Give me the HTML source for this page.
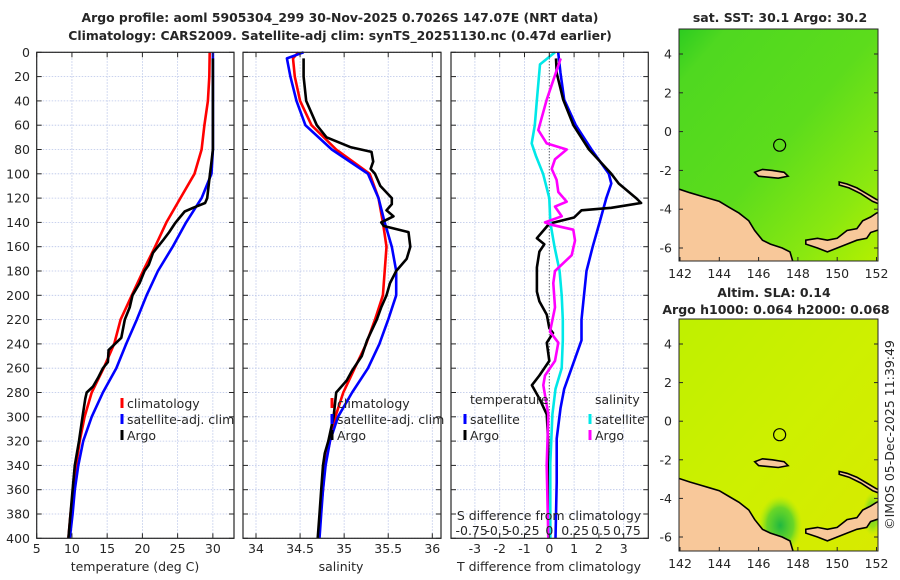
<!DOCTYPE html>
<html><head><meta charset="utf-8"><style>
html,body{margin:0;padding:0;background:#fff;}
svg{display:block;font-family:"DejaVu Sans","Liberation Sans",sans-serif;}
</style></head><body>
<svg id="fig" width="900" height="580" viewBox="0 0 900 580" xmlns="http://www.w3.org/2000/svg">
<defs>
<linearGradient id="sstGrad" x1="0" y1="0" x2="1" y2="1">
<stop offset="0" stop-color="#2ccc20"/><stop offset="0.12" stop-color="#4fd820"/><stop offset="0.5" stop-color="#5cdc1c"/><stop offset="0.8" stop-color="#8ae810"/><stop offset="1" stop-color="#b4f000"/></linearGradient>
<linearGradient id="slaGrad" x1="0" y1="0" x2="1" y2="1">
<stop offset="0" stop-color="#bff000"/><stop offset="0.5" stop-color="#cdf000"/><stop offset="1" stop-color="#d8ea00"/></linearGradient>
<radialGradient id="slaGreen" cx="0.5" cy="0.5" r="0.5"><stop offset="0" stop-color="#20b840"/><stop offset="0.6" stop-color="#50d030" stop-opacity="0.8"/><stop offset="1" stop-color="#a0e810" stop-opacity="0"/></radialGradient>
<clipPath id="clipMap1"><rect x="679" y="29" width="199" height="232"/></clipPath>
<clipPath id="clipMap2"><rect x="679" y="319" width="199" height="232"/></clipPath>
</defs>
<g id="root"></g>
</svg>
<script>
// ---------- DATA ----------
const climDepth=[0,20,40,60,80,100,120,140,160,180,200,220,240,260,280,300,320,340,360,380,400];
const tClim=[29.55,29.5,29.3,28.8,28.4,27.4,25.4,23.4,21.8,20.1,18.5,16.9,16.0,14.5,12.8,11.8,11.1,10.6,10.2,9.8,9.5];
const tSat=[30.0,30.0,30.0,30.0,30.0,29.8,28.4,26.2,24.3,22.2,20.6,19.2,17.7,16.3,14.4,12.8,11.6,10.9,10.4,10.1,9.7];
const tArgoDepth=[5,20,40,60,80,90,100,110,120,124,128,131,136,141,148,155,165,170,175,180,190,200,210,220,235,245,255,260,268,275,280,285,300,320,340,360,380,400];
const tArgo=[30.0,30.0,30.0,30.0,30.0,29.8,29.6,29.4,29.2,28.9,27.2,26.0,25.3,24.6,23.8,22.9,21.5,21.2,20.9,20.3,19.6,18.6,18.2,17.5,17.0,15.2,15.1,14.4,13.7,13.0,12.1,11.9,11.5,11.0,10.4,10.1,9.8,9.5];
const sDepth=[0,5,20,40,60,80,100,120,140,160,180,200,220,240,260,280,300,320,340,360,380,400];
const sClim=[34.48,34.42,34.44,34.50,34.63,34.91,35.29,35.39,35.44,35.48,35.46,35.44,35.35,35.25,35.12,34.99,34.90,34.84,34.78,34.76,34.73,34.71];
const sSat=[34.54,34.35,34.39,34.46,34.56,34.86,35.27,35.39,35.46,35.54,35.59,35.59,35.50,35.40,35.27,35.09,34.93,34.84,34.79,34.76,34.74,34.72];
const sArgoDepth=[5,20,40,60,70,78,82,90,96,100,110,120,125,130,135,140,143,148,160,170,180,190,200,210,220,237,250,262,270,280,300,320,330,340,360,380,400];
const sArgo=[34.54,34.54,34.57,34.69,34.80,35.07,35.31,35.33,35.30,35.35,35.41,35.54,35.54,35.48,35.56,35.42,35.45,35.73,35.75,35.71,35.59,35.52,35.48,35.42,35.37,35.26,35.20,35.09,35.03,34.91,34.88,34.82,34.78,34.76,34.74,34.72,34.70];
const tdSatDepth=[0,17,39,60,80,100,108,120,140,160,180,200,220,237,260,277,293,318,354,400];
const tdSat=[0.36,0.45,0.6,1.07,1.7,2.4,2.5,2.3,2.03,1.75,1.5,1.4,1.3,1.3,0.9,0.6,0.45,0.3,0.3,0.25];
const tdArgoDepth=[5,17,39,60,80,100,108,120,124,128,130,136,141,153,158,164,177,197,205,216,227,231,239,254,266,274,285,298,320,360,400];
const tdArgo=[0.27,0.3,0.56,0.97,1.6,2.5,2.8,3.5,3.7,2.5,1.3,1.0,0.0,-0.5,-0.2,-0.4,-0.5,-0.5,-0.4,-0.1,0.0,0.15,-0.1,0.0,-0.4,-0.7,-0.4,-0.1,-0.05,-0.05,0.0];
const sdSatDepth=[0,10,39,60,75,85,100,120,140,160,180,200,220,237,260,277,298,338,400];
const sdSat=[0.055,-0.09,-0.12,-0.14,-0.17,-0.13,-0.06,0.0,0.01,0.05,0.1,0.12,0.13,0.13,0.12,0.06,0.03,0.01,0.01];
const sdArgoDepth=[5,39,64,75,80,88,96,105,115,123,127,135,140,142,146,155,167,180,190,210,230,239,254,266,274,298,340,400];
const sdArgo=[0.11,-0.025,-0.106,-0.025,0.168,0.055,0.023,0.071,0.087,0.168,0.055,0.12,-0.042,0.023,0.232,0.248,0.216,0.055,0.039,0.055,0.007,0.087,0.055,-0.042,-0.058,-0.01,-0.025,-0.01];
const depthTicks=[0,20,40,60,80,100,120,140,160,180,200,220,240,260,280,300,320,340,360,380,400];
const tTicks=[5,10,15,20,25,30];
const sTicks=[34,34.5,35,35.5,36];
const dTTicks=[-3,-2,-1,0,1,2,3];
const dSTickLabels=[-0.75,-0.5,-0.25,0,0.25,0.5,0.75];
const lonTicks=[142,144,146,148,150,152];
const latTicks=[4,2,0,-2,-4,-6];

// ---------- helpers ----------
const NS="http://www.w3.org/2000/svg";
const root=document.getElementById('root');
function mk(tag,attrs,parent){const e=document.createElementNS(NS,tag);for(const k in attrs)e.setAttribute(k,attrs[k]);(parent||root).appendChild(e);return e;}
const Y0=52.3,Y1=538.3;
const yD=d=>Y0+(d/400)*(Y1-Y0);
function lin(d0,d1,r0,r1){return v=>r0+(v-d0)/(d1-d0)*(r1-r0);}
const P1={x0:36.7,x1:234,sx:lin(5,33,36.7,234)};
const P2={x0:243,x1:441,sx:lin(34,36,256,432.3)};
const P3={x0:451,x1:648.3,sx:lin(0,1,549.3,574.1)};
const sdx=lin(0,1,549.3,652.8);
const FS=12.5;

function panel(P,xt,name,gridFn){
  const g=mk('g',{});
  
  
  mk('rect',{x:P.x0,y:Y0,width:P.x1-P.x0,height:Y1-Y0,fill:'#fff'},g);
  depthTicks.forEach(d=>{mk('line',{x1:P.x0,x2:P.x1,y1:yD(d),y2:yD(d),stroke:'#b8c4e8','stroke-width':0.8,'stroke-dasharray':'1.5,1.5'},g);});
  xt.forEach(v=>{const x=gridFn(v);mk('line',{x1:x,x2:x,y1:Y0,y2:Y1,stroke:'#b8c4e8','stroke-width':0.8,'stroke-dasharray':'1.5,1.5'},g);});
  return g;
}
function frame(P,xt,gridFn,g){
  mk('rect',{x:P.x0,y:Y0,width:P.x1-P.x0,height:Y1-Y0,fill:'none',stroke:'#262626','stroke-width':1.2},g);
  depthTicks.forEach(d=>{const y=yD(d);mk('line',{x1:P.x0,x2:P.x0+5,y1:y,y2:y,stroke:'#262626'},g);mk('line',{x1:P.x1-5,x2:P.x1,y1:y,y2:y,stroke:'#262626'},g);});
  xt.forEach(v=>{const x=gridFn(v);mk('line',{x1:x,x2:x,y1:Y0,y2:Y0+5,stroke:'#262626'},g);mk('line',{x1:x,x2:x,y1:Y1-5,y2:Y1,stroke:'#262626'},g);});
}
function series(depths,vals,sx,color,name,g,w){
  const pts=depths.map((d,i)=>sx(vals[i]).toFixed(1)+','+yD(d).toFixed(1)).join(' ');
  const p=mk('polyline',{points:pts,fill:'none',stroke:color,'stroke-width':w||2.6,'stroke-linejoin':'round'},g);
  
  
}
function text(x,y,str,opt,parent){const t=mk('text',Object.assign({x:x,y:y,'font-size':FS,fill:'#262626'},opt||{}),parent);t.textContent=str;return t;}
function xlabels(ticks,sx,g,fmt){ticks.forEach(v=>{const t=text(sx(v),553,fmt?fmt(v):String(v),{'text-anchor':'middle'},g);});}
function legendItem(x,y,color,label,g){mk('line',{x1:x,x2:x,y1:y-10,y2:y,stroke:color,'stroke-width':3},g);const t=text(x+5,y,label,{},g);}

// ---------- titles ----------
const t1=text(340,22,'Argo profile: aoml 5905304_299 30-Nov-2025 0.7026S 147.07E (NRT data)',{'text-anchor':'middle','font-weight':'bold','font-size':12.4});


const t2=text(340,40,'Climatology: CARS2009. Satellite-adj clim: synTS_20251130.nc (0.47d earlier)',{'text-anchor':'middle','font-weight':'bold','font-size':12.4});



// ---------- panel 1 ----------
const g1=panel(P1,tTicks,'temperature-panel',P1.sx);
series(climDepth,tClim,P1.sx,'#ff0000','temperature-climatology-line',g1);
series(climDepth,tSat,P1.sx,'#0000ff','temperature-satellite-line',g1);
series(tArgoDepth,tArgo,P1.sx,'#000000','temperature-argo-line',g1);
frame(P1,tTicks,P1.sx,g1);
depthTicks.forEach(d=>{const t=text(30,yD(d)+4.5,String(d),{'text-anchor':'end'},g1);});
xlabels(tTicks,P1.sx,g1);
text(135,571,'temperature (deg C)',{'text-anchor':'middle'},g1);
legendItem(122,408,'#ff0000','climatology',g1);
legendItem(122,424,'#0000ff','satellite-adj. clim',g1);
legendItem(122,440,'#000000','Argo',g1);

// ---------- panel 2 ----------
const g2=panel(P2,sTicks,'salinity-panel',P2.sx);
series(sDepth,sClim,P2.sx,'#ff0000','salinity-climatology-line',g2);
series(sDepth,sSat,P2.sx,'#0000ff','salinity-satellite-line',g2);
series(sArgoDepth,sArgo,P2.sx,'#000000','salinity-argo-line',g2);
frame(P2,sTicks,P2.sx,g2);
xlabels(sTicks,P2.sx,g2);
text(341,571,'salinity',{'text-anchor':'middle'},g2);
legendItem(332,408,'#ff0000','climatology',g2);
legendItem(332,424,'#0000ff','satellite-adj. clim',g2);
legendItem(332,440,'#000000','Argo',g2);

// ---------- panel 3 ----------
const g3=panel(P3,dTTicks,'difference-panel',P3.sx);
mk('line',{x1:P3.sx(0),x2:P3.sx(0),y1:Y0,y2:Y1,stroke:'#333','stroke-width':1,'stroke-dasharray':'1,2'},g3);
series(tdSatDepth,tdSat,P3.sx,'#0000ff','temperature-diff-satellite-line',g3);
series(tdArgoDepth,tdArgo,P3.sx,'#000000','temperature-diff-argo-line',g3);
series(sdSatDepth,sdSat,sdx,'#00e8e8','salinity-diff-satellite-line',g3);
series(sdArgoDepth,sdArgo,sdx,'#ff00ff','salinity-diff-argo-line',g3);
frame(P3,dTTicks,P3.sx,g3);
xlabels(dTTicks,P3.sx,g3);
text(549,571,'T difference from climatology',{'text-anchor':'middle'},g3);
text(549,520,'S difference from climatology',{'text-anchor':'middle'},g3);
dSTickLabels.forEach(v=>{const t=text(sdx(v),535,String(v),{'text-anchor':'middle'},g3);});
text(470,404,'temperature',{},g3);
legendItem(465,424,'#0000ff','satellite',g3);
legendItem(465,440,'#000000','Argo',g3);
text(595,404,'salinity',{},g3);
legendItem(590,424,'#00e8e8','satellite',g3);
legendItem(590,440,'#ff00ff','Argo',g3);

// ---------- maps ----------
const land=[[141.9,-2.95],[142.5,-3.15],[143,-3.3],[143.5,-3.45],[144,-3.6],[144.5,-3.9],[145,-4.2],[145.5,-4.6],[145.8,-5.1],[146.2,-5.6],[146.6,-5.8],[147.2,-6.0],[147.6,-6.2],[147.8,-6.9],[141.9,-6.9]];
const newBritain=[[148.4,-5.6],[149,-5.5],[149.5,-5.6],[150,-5.5],[150.5,-5.1],[151,-5.0],[151.3,-4.6],[151.7,-4.4],[152,-4.2],[152.3,-4.1],[152.3,-5.0],[151.7,-5.2],[151.5,-5.5],[151,-5.6],[150.5,-5.8],[150,-6.0],[149.5,-6.2],[149,-6.0],[148.4,-5.8]];
const newIreland=[[150.1,-2.6],[150.5,-2.7],[151,-2.9],[151.5,-3.2],[152,-3.5],[152.3,-3.6],[152.3,-3.8],[151.8,-3.6],[151.2,-3.2],[150.6,-2.9],[150.1,-2.75]];
const manus=[[145.8,-2.1],[146.2,-1.95],[146.7,-2.0],[147.3,-2.1],[147.5,-2.3],[147,-2.4],[146.5,-2.35],[146,-2.3]];
const argoPos=[147.07,-0.70];
function drawMap(top,lat4y,latm6y,clip,fill,name,extra){
  const g=mk('g',{});
  
  
  const mx=lin(142,152,680,876.5), my=lin(4,-6,lat4y,latm6y);
  const cg=mk('g',{'clip-path':'url(#'+clip+')'},g);
  mk('rect',{x:679,y:top,width:199,height:232,fill:fill},cg);
  if(extra)extra(cg,mx,my);
  [land,newBritain,newIreland,manus].forEach(poly=>{
    const p=mk('polygon',{points:poly.map(q=>mx(q[0]).toFixed(1)+','+my(q[1]).toFixed(1)).join(' '),fill:'#f8c89a',stroke:'#000','stroke-width':1.6},cg);
    
    
  });
  const c=mk('circle',{cx:mx(argoPos[0]),cy:my(argoPos[1]),r:6,fill:'none',stroke:'#000','stroke-width':1.2},g);
  
  
  mk('rect',{x:679,y:top,width:199,height:232,fill:'none',stroke:'#262626','stroke-width':1},g);
  latTicks.forEach(v=>{const y=my(v);mk('line',{x1:679,x2:683,y1:y,y2:y,stroke:'#262626'},g);mk('line',{x1:874,x2:878,y1:y,y2:y,stroke:'#262626'},g);
    const t=text(672,y+4.5,String(v),{'text-anchor':'end'},g);});
  lonTicks.forEach(v=>{const x=mx(v);mk('line',{x1:x,x2:x,y1:top+232-4,y2:top+232,stroke:'#262626'},g);
    const t=text(x,top+232+17,String(v),{'text-anchor':'middle'},g);});
  return g;
}
drawMap(29,54,248,'clipMap1','url(#sstGrad)','sst-map');
const tm1=text(780,22,'sat. SST: 30.1 Argo: 30.2',{'text-anchor':'middle','font-weight':'bold'});


drawMap(319,344,537,'clipMap2','url(#slaGrad)','sla-map',function(cg,mx,my){
  mk('ellipse',{cx:mx(147.1),cy:my(-5.4),rx:22,ry:30,fill:'url(#slaGreen)'},cg);
  mk('ellipse',{cx:mx(151.8),cy:my(-4.8),rx:10,ry:22,fill:'url(#slaGreen)',opacity:0.6},cg);
});
const tm2=text(774,297,'Altim. SLA: 0.14',{'text-anchor':'middle','font-weight':'bold'});


const tm3=text(776,314,'Argo h1000: 0.064 h2000: 0.068',{'text-anchor':'middle','font-weight':'bold'});


const cr=text(0,0,'©IMOS 05-Dec-2025 11:39:49',{'text-anchor':'middle','transform':'translate(894,435) rotate(-90)'});


</script>
</body></html>
